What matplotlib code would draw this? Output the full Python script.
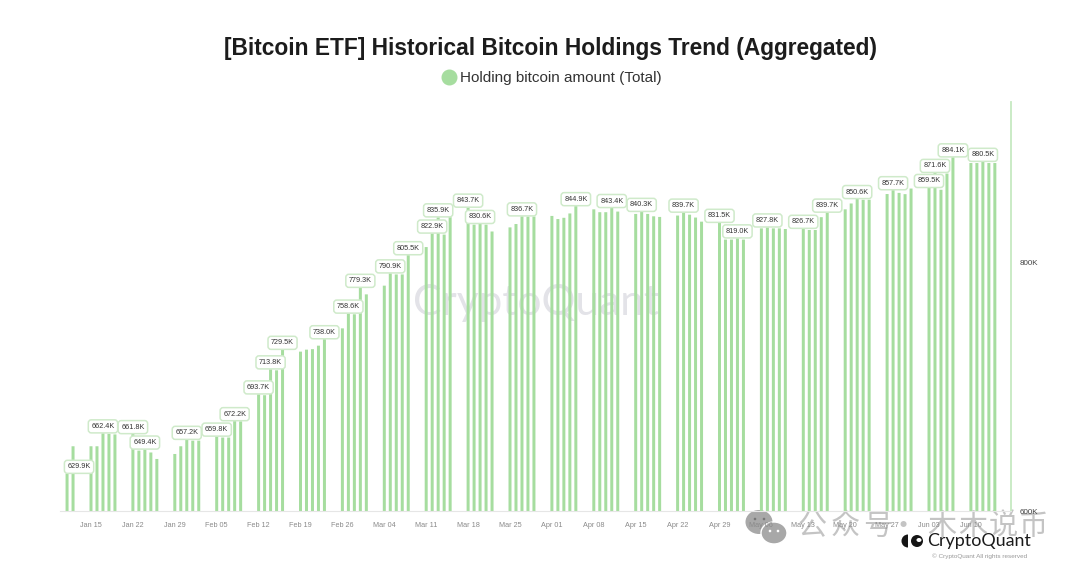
import matplotlib
matplotlib.use("Agg")
import matplotlib.pyplot as plt
import matplotlib.dates as mdates
from matplotlib.lines import Line2D
from matplotlib.patches import Ellipse, Wedge
from matplotlib.ticker import FuncFormatter
import pandas as pd

plt.rcParams['font.family'] = ['Liberation Sans', 'DejaVu Sans']

W, H = 1080, 572
GREEN = '#a6dd9f'

holdings = [
    629.9, 652,
    652, 652, 662.4, 662, 661.5,
    661.8, 648.5, 649.4, 647, 641.8,
    645.8, 652, 657.2, 656.5, 656.5,
    659.8, 659, 659, 672.2, 672,
    693.7, 693, 713.8, 713, 729.5,
    728, 729.6, 730, 732.8, 738,
    746.7, 758.6, 758, 779.3, 774,
    781, 790.9, 790, 790, 805.5,
    812, 822.9, 835.9, 822, 836,
    843.7, 830, 830.6, 830, 824.5,
    827.8, 830.5, 836.7, 836.5, 836.5,
    837, 834.5, 835.5, 839, 844.9,
    842.3, 840, 840, 843.4, 840.5,
    838.6, 840.3, 838.6, 836.7, 836.2,
    837.3, 839.7, 838, 835.7, 832.4,
    831.5, 818, 818, 819, 818,
    827, 827.8, 827, 827, 826.5,
    826.7, 825.7, 825.7, 836, 839.7,
    842.3, 847, 850.6, 850, 850,
    854.6, 857.7, 855.5, 854.5, 859,
    859.5, 871.6, 858, 871, 884.1,
    879.5, 879.5, 880.5, 879.5, 879.5,
]
dates = pd.bdate_range('2024-01-11', '2024-06-14')

labelled_dates = [
    '2024-01-11', '2024-01-17', '2024-01-22', '2024-01-24', '2024-01-31',
    '2024-02-05', '2024-02-08', '2024-02-12', '2024-02-14', '2024-02-16',
    '2024-02-23', '2024-02-27', '2024-02-29', '2024-03-05', '2024-03-08',
    '2024-03-12', '2024-03-13', '2024-03-18', '2024-03-20', '2024-03-27',
    '2024-04-05', '2024-04-11', '2024-04-16', '2024-04-23', '2024-04-29',
    '2024-05-02', '2024-05-07', '2024-05-13', '2024-05-17', '2024-05-22',
    '2024-05-28', '2024-06-03', '2024-06-04', '2024-06-07', '2024-06-12',
]
week_ticks = pd.date_range('2024-01-15', '2024-06-10', freq='7D')
y_ticks = [600, 800]


def fx(px):
    return px / W


def fy(py):
    return 1 - py / H


fig = plt.figure(figsize=(W / 100, H / 100), dpi=100, facecolor='white')
ax_l, ax_r, ax_t, ax_b = 60, 1011, 102, 511
ax = fig.add_axes([fx(ax_l), fy(ax_b), (ax_r - ax_l) / W, (ax_b - ax_t) / H], zorder=2)
ax.patch.set_alpha(0)

ax.text(fx(536), fy(303), 'CryptoQuant', transform=fig.transFigure, ha='center', va='center',
        fontsize=30.5, color='#e3e3e8', family='Lato', zorder=0)

ax.bar(dates, holdings, width=0.5, color=GREEN, linewidth=0, zorder=2, snap=False)

day_px = 41.9 / 7
x0 = mdates.date2num(pd.Timestamp('2024-01-15'))
ax.set_xlim(x0 - (91 - ax_l) / day_px, x0 + (ax_r - 91) / day_px)
ax.set_ylim(600, 600 + (ax_b - ax_t) / 1.245)

for s in ('top', 'left'):
    ax.spines[s].set_visible(False)
ax.spines['right'].set_color('#c6e9c1')
ax.spines['right'].set_linewidth(1.3)
ax.spines['bottom'].set_color('#e6e6e6')
ax.spines['bottom'].set_linewidth(0.8)

ax.set_xticks(week_ticks)
ax.set_xticklabels([d.strftime('%b %d') for d in week_ticks], fontsize=5.2, color='#8a8a8a')
ax.tick_params(axis='x', length=0, pad=8)
ax.yaxis.tick_right()
ax.set_yticks(y_ticks)
ax.yaxis.set_major_formatter(FuncFormatter(lambda v, _: f'{v:.0f}K'))
ax.tick_params(axis='y', length=0, pad=6, labelsize=5.8, labelcolor='#444444')

series = pd.Series(holdings, index=dates)
for d in labelled_dates:
    v = series[pd.Timestamp(d)]
    dx = 12 * 0.72 if d == '2024-01-11' else 0
    ax.annotate(f'{v:.1f}K', (pd.Timestamp(d), v), xytext=(dx, 5), textcoords='offset points',
                ha='center', va='center', fontsize=5.2, color='#333333', zorder=5,
                bbox=dict(boxstyle='round,pad=0.42', fc='white', ec='#cfeaca', lw=1.1))

fig.text(fx(551), fy(48), '[Bitcoin ETF] Historical Bitcoin Holdings Trend (Aggregated)',
         ha='center', va='center', fontsize=16.4, fontweight='bold', color='#1c1c1c')
handle = Line2D([], [], marker='o', linestyle='none', markersize=10.5, color=GREEN,
                label='Holding bitcoin amount (Total)')
fig.legend(handles=[handle], loc='center', bbox_to_anchor=(fx(548), fy(78)), frameon=False,
           fontsize=11, labelcolor='#333333', handletextpad=-0.3, borderpad=0)

# WeChat watermark and CryptoQuant logo sit behind the chart axes
overlay = fig.add_axes([0, 0, 1, 1], zorder=1)
overlay.set_xlim(0, W)
overlay.set_ylim(H, 0)
overlay.axis('off')
overlay.patch.set_alpha(0)
overlay.add_patch(Ellipse((759, 522), 27, 24, fc='#a8a8a8', ec='none'))
overlay.add_patch(Ellipse((774, 533), 26, 22, fc='#a8a8a8', ec='white', lw=1))
for ex, ey, c in [(755, 519, '#777777'), (764, 519, '#777777'), (770, 531, 'white'), (778, 531, 'white')]:
    overlay.add_patch(Ellipse((ex, ey), 2.6, 2.6, fc=c, ec='none'))

wm_chars = ['公', '众', '号', '·', '木', '木', '说', '币']
wm_x = [812, 845, 878, 903, 942, 973, 1003, 1033]
for ch, x in zip(wm_chars, wm_x):
    overlay.text(x, 527, ch, ha='center', va='center', fontsize=21, color='#c4c4c4',
                 family=['Noto Sans CJK SC', 'DejaVu Sans'])

overlay.add_patch(Wedge((908, 541), 6.5, 90, 270, fc='#151515', ec='none'))
overlay.add_patch(Ellipse((917, 541), 12, 12, fc='#151515', ec='none'))
overlay.add_patch(Ellipse((919, 540), 5, 4, fc='white', ec='none'))
overlay.text(979, 541, 'CryptoQuant', ha='center', va='center', fontsize=12.9, color='#1a1a1a', family='Lato')
overlay.text(979.5, 556, '© CryptoQuant All rights reserved', ha='center', va='center', fontsize=4.6, color='#999999')

fig.savefig('out.png', dpi=100, facecolor='white')
